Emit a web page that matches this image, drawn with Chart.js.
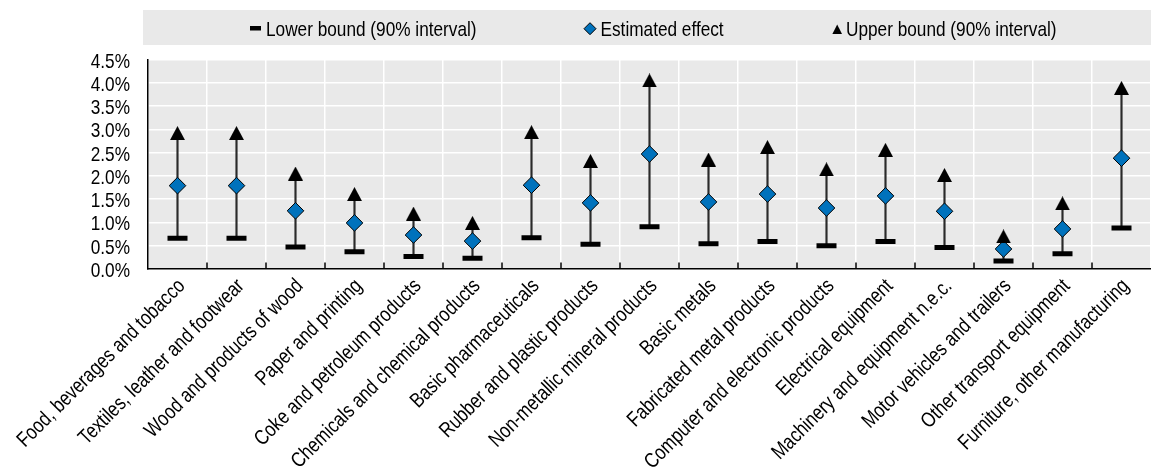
<!DOCTYPE html>
<html>
<head>
<meta charset="utf-8">
<title>Estimated effect by manufacturing industry</title>
<script src="https://cdn.jsdelivr.net/npm/chart.js@4/dist/chart.umd.min.js"></script>
<style>
  html, body { margin: 0; padding: 0; background: #ffffff; }
  #wrap { width: 1151px; height: 471px; }
</style>
</head>
<body>
<div id="wrap"><canvas id="chart" width="1151" height="471"></canvas></div>
<script>
// Industries on the horizontal axis
const categories = [
  'Food, beverages and tobacco',
  'Textiles, leather and footwear',
  'Wood and products of wood',
  'Paper and printing',
  'Coke and petroleum products',
  'Chemicals and chemical products',
  'Basic pharmaceuticals',
  'Rubber and plastic products',
  'Non-metallic mineral products',
  'Basic metals',
  'Fabricated metal products',
  'Computer and electronic products',
  'Electrical equipment',
  'Machinery and equipment n.e.c.',
  'Motor vehicles and trailers',
  'Other transport equipment',
  'Furniture, other manufacturing'
];

// Values in percent
const lowerBound = [0.66, 0.66, 0.47, 0.37, 0.27, 0.23, 0.67, 0.53, 0.91, 0.54, 0.59, 0.50, 0.59, 0.46, 0.17, 0.33, 0.88];
const estimate   = [1.79, 1.79, 1.25, 0.99, 0.73, 0.60, 1.80, 1.42, 2.47, 1.44, 1.61, 1.31, 1.57, 1.24, 0.43, 0.86, 2.38];
const upperBound = [2.92, 2.92, 2.05, 1.61, 1.19, 0.99, 2.94, 2.32, 4.05, 2.35, 2.62, 2.14, 2.56, 2.02, 0.70, 1.41, 3.89];

const seriesNames = ['Lower bound (90% interval)', 'Estimated effect', 'Upper bound (90% interval)'];
const yTickValues = [0, 0.5, 1, 1.5, 2, 2.5, 3, 3.5, 4, 4.5];
const yTickLabels = ['0.0%', '0.5%', '1.0%', '1.5%', '2.0%', '2.5%', '3.0%', '3.5%', '4.0%', '4.5%'];

const FONT = "'Liberation Sans', Arial, sans-serif";
const TEXT_SIZE = 21;     // px
const NARROW = 0.82;      // horizontal squeeze for a narrow face
const PANEL = '#e9e9e9';
const BLUE = '#0072bc';

// Narrow text: squeeze the glyphs horizontally around the anchor point
function narrowText(ctx, text, x, y, align, angle) {
  ctx.save();
  ctx.translate(x, y);
  if (angle) ctx.rotate(angle);
  ctx.scale(NARROW, 1);
  ctx.textAlign = align;
  ctx.textBaseline = 'alphabetic';
  ctx.fillText(text, 0, 0);
  ctx.restore();
}

// Solid triangle drawn into its own box so it is centred on the value
function triangleImage(w, h) {
  const c = document.createElement('canvas');
  c.width = w; c.height = h;
  const g = c.getContext('2d');
  g.fillStyle = '#000';
  g.beginPath();
  g.moveTo(w / 2, 0);
  g.lineTo(w, h);
  g.lineTo(0, h);
  g.closePath();
  g.fill();
  return c;
}
const triangleMark = triangleImage(15, 14);

// Grey plot panel and legend band
const panelPlugin = {
  id: 'panel',
  beforeDraw(chart) {
    const { ctx, chartArea: a } = chart;
    ctx.save();
    ctx.fillStyle = PANEL;
    ctx.fillRect(a.left, a.top, a.right - a.left, a.bottom - a.top);
    ctx.fillRect(143, 10, chart.width - 143, 35);
    ctx.restore();
  }
};

// Legend drawn inside the grey band
const legendPlugin = {
  id: 'bandLegend',
  afterDraw(chart) {
    const { ctx } = chart;
    const base = 35.5;
    ctx.save();
    ctx.font = TEXT_SIZE + 'px ' + FONT;
    ctx.fillStyle = '#000';

    // lower bound: short thick dash
    ctx.fillRect(250, base - 9.5, 11, 4.5);
    narrowText(ctx, seriesNames[0], 266, base, 'left');

    // estimated effect: blue diamond
    const dy = base - 6.8;
    ctx.beginPath();
    ctx.moveTo(590, dy - 6);
    ctx.lineTo(596, dy);
    ctx.lineTo(590, dy + 6);
    ctx.lineTo(584, dy);
    ctx.closePath();
    ctx.fillStyle = BLUE;
    ctx.fill();
    ctx.lineWidth = 1;
    ctx.strokeStyle = '#000';
    ctx.stroke();
    ctx.fillStyle = '#000';
    narrowText(ctx, seriesNames[1], 600.5, base, 'left');

    // upper bound: black triangle
    ctx.beginPath();
    ctx.moveTo(837.2, base - 11);
    ctx.lineTo(842, base - 1.5);
    ctx.lineTo(832.4, base - 1.5);
    ctx.closePath();
    ctx.fill();
    narrowText(ctx, seriesNames[2], 846, base, 'left');
    ctx.restore();
  }
};

// Axis labels placed from the scales, plus short inward ticks on the category boundaries
const axisTextPlugin = {
  id: 'axisText',
  afterDraw(chart) {
    const { ctx, chartArea: a } = chart;
    const xs = chart.scales.x;
    const ys = chart.scales.y;
    ctx.save();
    ctx.strokeStyle = '#000';
    ctx.lineWidth = 1.5;
    ctx.beginPath();
    for (let i = 1; i < categories.length; i++) {
      const x = xs.getPixelForValue(i - 0.5);
      ctx.moveTo(x, a.bottom);
      ctx.lineTo(x, a.bottom - 6.5);
    }
    ctx.stroke();

    ctx.font = TEXT_SIZE + 'px ' + FONT;
    ctx.fillStyle = '#000';
    yTickValues.forEach((v, i) => {
      narrowText(ctx, yTickLabels[i], a.left - 18, ys.getPixelForValue(v) + 8, 'right');
    });
    categories.forEach((label, i) => {
      const x = xs.getPixelForValue(i);
      narrowText(ctx, label, x + 8.5, a.bottom + 18, 'right', -Math.PI / 4);
    });
    ctx.restore();
  }
};

new Chart(document.getElementById('chart'), {
  data: {
    labels: categories,
    datasets: [
      {
        type: 'bar',
        label: 'range',
        data: categories.map((_, i) => [lowerBound[i], upperBound[i]]),
        backgroundColor: '#2a2a2a',
        barThickness: 1.5,
        order: 10
      },
      {
        type: 'line',
        label: seriesNames[0],
        data: lowerBound,
        showLine: false,
        pointStyle: 'line',
        pointRadius: 10,
        pointBorderWidth: 5,
        pointBorderColor: '#000',
        order: 3
      },
      {
        type: 'line',
        label: seriesNames[1],
        data: estimate,
        showLine: false,
        pointStyle: 'rectRot',
        pointRadius: 8.3,
        pointBackgroundColor: BLUE,
        pointBorderColor: '#000',
        pointBorderWidth: 1,
        order: 2
      },
      {
        type: 'line',
        label: seriesNames[2],
        data: upperBound,
        showLine: false,
        pointStyle: triangleMark,
        pointRadius: 8,
        order: 1
      }
    ]
  },
  options: {
    responsive: false,
    animation: false,
    events: [],
    layout: { autoPadding: false, padding: { top: 59.5, right: -7, left: 0, bottom: 0 } },
    plugins: { legend: { display: false }, tooltip: { enabled: false } },
    scales: {
      x: {
        type: 'category',
        offset: true,
        grid: { color: '#ffffff', lineWidth: 1.5, drawTicks: false, offset: true },
        border: { color: '#000', width: 1.5 },
        ticks: { display: false },
        afterFit(s) { s.height = 202; }
      },
      y: {
        min: 0,
        max: 4.5,
        afterBuildTicks(s) { s.ticks = yTickValues.map(v => ({ value: v })); },
        ticks: { display: false },
        grid: { color: '#ffffff', lineWidth: 1.5, drawTicks: false },
        border: { color: '#000', width: 1.5 },
        afterFit(s) { s.width = 148; }
      }
    }
  },
  plugins: [panelPlugin, legendPlugin, axisTextPlugin]
});
</script>
</body>
</html>
